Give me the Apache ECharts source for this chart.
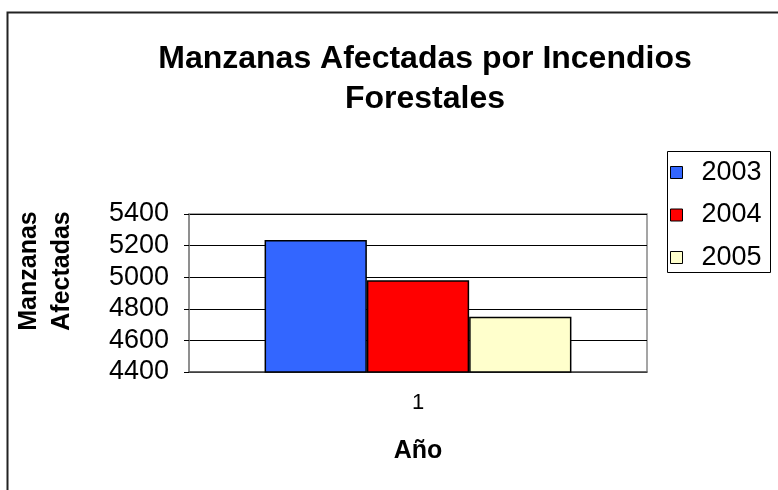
<!DOCTYPE html>
<html>
<head>
<meta charset="utf-8">
<script src="https://cdn.jsdelivr.net/npm/echarts@6/dist/echarts.min.js"></script>
<style>
  html, body { margin: 0; padding: 0; background: #fff; }
  #chart { width: 778px; height: 490px; }
</style>
</head>
<body>
<div id="chart"></div>
<script>
var categories = ['1']
var years = ['2003', '2004', '2005']
var values2003 = [5235]
var values2004 = [4980]
var values2005 = [4750]
var yTicks = [4400, 4600, 4800, 5000, 5200, 5400]

var colors = ['#3366ff', '#ff0000', '#ffffcc']
var font = 'Arial, "Liberation Sans", sans-serif'

var chart = echarts.init(document.getElementById('chart'))

var seriesValues = [values2003, values2004, values2005]
var series = years.map(function(y, i) {
  return {
    name: y,
    type: 'bar',
    data: seriesValues[i],
    barGap: '0%',
    barCategoryGap: '33%',
    itemStyle: { color: colors[i], borderColor: '#000', borderWidth: 1.5 }
  }
})

chart.setOption({
  animation: false,
  color: colors,
  title: {
    text: 'Manzanas Afectadas por Incendios\nForestales',
    left: 420,
    top: 34,
    textAlign: 'center',
    textStyle: { fontFamily: font, fontWeight: 'bold', fontSize: 32, lineHeight: 40, color: '#000' }
  },
  legend: {
    orient: 'vertical',
    left: 670,
    top: 159,
    padding: 0,
    itemGap: 15.5,
    itemWidth: 12,
    itemHeight: 12,
    icon: 'rect',
    itemStyle: { borderColor: '#000', borderWidth: 1 },
    textStyle: { fontFamily: font, fontSize: 27, lineHeight: 27, color: '#000', padding: [0, 0, 0, 14] },
    data: years
  },
  graphic: [{
    type: 'rect',
    shape: { x: 7.5, y: 12.5, width: 900, height: 600 },
    style: { fill: 'none', stroke: '#222', lineWidth: 2 },
    silent: true
  }, {
    // legend frame
    type: 'rect',
    left: 665,
    top: 149,
    shape: { width: 103, height: 121 },
    style: { fill: 'none', stroke: '#000', lineWidth: 1 },
    silent: true
  }],
  grid: {
    left: 189,
    right: 131,
    top: 214,
    bottom: 118,
    show: true,
    borderColor: '#888',
    borderWidth: 1.5
  },
  xAxis: {
    type: 'category',
    data: categories,
    name: 'Año',
    nameLocation: 'middle',
    nameGap: 67,
    nameTextStyle: { fontFamily: font, fontWeight: 'bold', fontSize: 25, color: '#000' },
    axisLine: { lineStyle: { color: '#555', width: 1.5 } },
    axisTick: { length: 6, lineStyle: { color: '#000' } },
    axisLabel: { margin: 20, fontFamily: font, fontSize: 22, color: '#000' }
  },
  yAxis: {
    type: 'value',
    min: yTicks[0],
    max: yTicks[yTicks.length - 1],
    interval: 200,
    name: 'Manzanas\nAfectadas',
    nameLocation: 'middle',
    nameRotate: 90,
    nameGap: 110,
    nameTextStyle: { fontFamily: font, fontWeight: 'bold', fontSize: 25, lineHeight: 33, color: '#000', padding: [0, 0, 0, 44] },
    axisLine: { show: true, lineStyle: { color: '#888', width: 1.5 } },
    axisTick: { show: true, length: 5, lineStyle: { color: '#000' } },
    axisLabel: {
      margin: 20,
      fontFamily: font,
      fontSize: 27,
      color: '#000',
      formatter: function(v) { return String(v) }
    },
    splitLine: { lineStyle: { color: '#000', width: 1 } }
  },
  series: series
})
</script>
</body>
</html>
